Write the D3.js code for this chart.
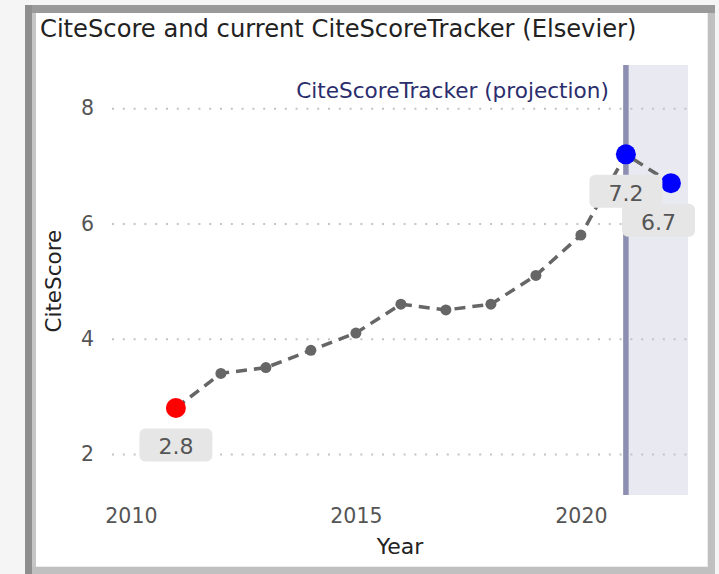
<!DOCTYPE html>
<html>
<head>
<meta charset="utf-8">
<script src="https://cdn.jsdelivr.net/npm/d3@7"></script>
<style>
  html, body { margin: 0; padding: 0; background: #f5f5f5; }
  svg { display: block; font-family: "DejaVu Sans", Verdana, sans-serif; }
</style>
</head>
<body>
<div id="container"></div>
<script>
const W = 719;
const H = 574;

// data
const years = [2011, 2012, 2013, 2014, 2015, 2016, 2017, 2018, 2019, 2020, 2021, 2022];
const citeScores = [2.8, 3.4, 3.5, 3.8, 4.1, 4.6, 4.5, 4.6, 5.1, 5.8, 7.2, 6.7];
const trackerYears = [2021, 2022];
const labelledYears = [2011, 2021, 2022];
const xTicks = [2010, 2015, 2020];
const yTicks = [2, 4, 6, 8];
const titleText = "CiteScore and current CiteScoreTracker (Elsevier)";
const projectionText = "CiteScoreTracker (projection)";

const plot = { left: 112, right: 688, top: 65, bottom: 495 };
const font = '"DejaVu Sans", Verdana, sans-serif';

const svg = d3
  .select("#container")
  .append("svg")
  .attr("width", W)
  .attr("height", H);

// page frame (inset border look)
svg.append("rect").attr("width", W).attr("height", H).attr("fill", "#f5f5f5");
svg.append("rect").attr("x", 25).attr("y", 5).attr("width", 690).attr("height", 569).attr("fill", "#c0c0c0");
svg.append("rect").attr("x", 25).attr("y", 5).attr("width", 690).attr("height", 8).attr("fill", "#9a9a9a");
svg.append("rect").attr("x", 25).attr("y", 5).attr("width", 7).attr("height", 569).attr("fill", "#8e8e8e");
svg.append("rect").attr("x", 32).attr("y", 13).attr("width", 4).attr("height", 554).attr("fill", "#c6c6c6");
svg.append("rect").attr("x", 36).attr("y", 13).attr("width", 672).attr("height", 554).attr("fill", "#ececec");
svg.append("rect").attr("x", 36).attr("y", 13).attr("width", 671).attr("height", 553).attr("fill", "#fff");

const x = d3.scaleLinear().domain([2009.58, 2022.38]).range([plot.left, plot.right]);
const y = d3.scaleLinear().domain([1.29, 8.75]).range([plot.bottom, plot.top]);

const series = years.map((yr, i) => ({ year: yr, value: citeScores[i] }));

// shaded projection region
const t0 = d3.min(trackerYears);
svg.append("rect")
  .attr("x", x(t0))
  .attr("y", plot.top)
  .attr("width", plot.right - x(t0))
  .attr("height", plot.bottom - plot.top)
  .attr("fill", "#e9eaf1");

// gridlines
const grid = svg.append("g")
  .attr("transform", `translate(${plot.left},0)`)
  .call(d3.axisLeft(y).tickValues(yTicks).tickSize(-(plot.right - plot.left)).tickFormat(""));
grid.select(".domain").remove();
grid.selectAll("line")
  .attr("stroke", "#c4c4c4")
  .attr("stroke-width", 2)
  .attr("stroke-dasharray", "2,8.8");

// vertical marker at start of tracker
svg.append("line")
  .attr("x1", x(t0)).attr("x2", x(t0))
  .attr("y1", plot.top).attr("y2", plot.bottom)
  .attr("stroke", "#8c8fb2")
  .attr("stroke-width", 5.5);

// axes
const xAxis = svg.append("g")
  .attr("transform", `translate(0,${plot.bottom})`)
  .call(d3.axisBottom(x).tickValues(xTicks).tickFormat(d3.format("d")).tickSize(0).tickPadding(13))
  .attr("font-family", font)
  .attr("font-size", 20.5);
xAxis.select(".domain").remove();
xAxis.selectAll("text").attr("fill", "#555");

const yAxis = svg.append("g")
  .attr("transform", `translate(${plot.left},0)`)
  .call(d3.axisLeft(y).tickValues(yTicks).tickSize(0).tickPadding(18))
  .attr("font-family", font)
  .attr("font-size", 20.5);
yAxis.select(".domain").remove();
yAxis.selectAll("text").attr("fill", "#555");

// dashed line
svg.append("path")
  .datum(series)
  .attr("fill", "none")
  .attr("stroke", "#666")
  .attr("stroke-width", 3.5)
  .attr("stroke-dasharray", "11,7")
  .attr("d", d3.line().x((d) => x(d.year)).y((d) => y(d.value)));

// points
const colourOf = (d, i) => (i === 0 ? "#ff0000" : trackerYears.includes(d.year) ? "#0000ff" : "#666");
svg.selectAll("circle.pt")
  .data(series)
  .enter()
  .append("circle")
  .attr("class", "pt")
  .attr("cx", (d) => x(d.year))
  .attr("cy", (d) => y(d.value))
  .attr("r", (d, i) => (i === 0 || trackerYears.includes(d.year) ? 10 : 5.5))
  .attr("fill", colourOf);

// value labels
const boxW = 73, boxH = 33;
const labels = svg.selectAll("g.lbl")
  .data(series.filter((d) => labelledYears.includes(d.year)))
  .enter()
  .append("g")
  .attr("class", "lbl")
  .attr("transform", (d) => {
    const bx = Math.min(x(d.year) - boxW / 2, plot.right + 7 - boxW);
    return `translate(${bx},${y(d.value) + 20.5})`;
  });
labels.append("rect")
  .attr("width", boxW)
  .attr("height", boxH)
  .attr("rx", 6)
  .attr("fill", "#e6e6e6");
labels.append("text")
  .attr("x", boxW / 2)
  .attr("y", 26)
  .attr("text-anchor", "middle")
  .attr("font-size", 22)
  .attr("fill", "#555")
  .text((d) => d.value.toFixed(1));

// projection annotation
svg.append("text")
  .attr("x", x(t0) - 17)
  .attr("y", 98)
  .attr("text-anchor", "end")
  .attr("font-size", 21.6)
  .attr("fill", "#2b2d6c")
  .text(projectionText);

// titles
svg.append("text")
  .attr("x", 40)
  .attr("y", 37)
  .attr("font-size", 24.2)
  .attr("fill", "#222")
  .text(titleText);

svg.append("text")
  .attr("x", (plot.left + plot.right) / 2)
  .attr("y", 554)
  .attr("text-anchor", "middle")
  .attr("font-size", 22)
  .attr("fill", "#222")
  .text("Year");

svg.append("text")
  .attr("transform", `translate(61,${(y(2) + y(8)) / 2 + 0})rotate(-90)`)
  .attr("text-anchor", "middle")
  .attr("font-size", 21.5)
  .attr("fill", "#222")
  .text("CiteScore");
</script>
</body>
</html>
